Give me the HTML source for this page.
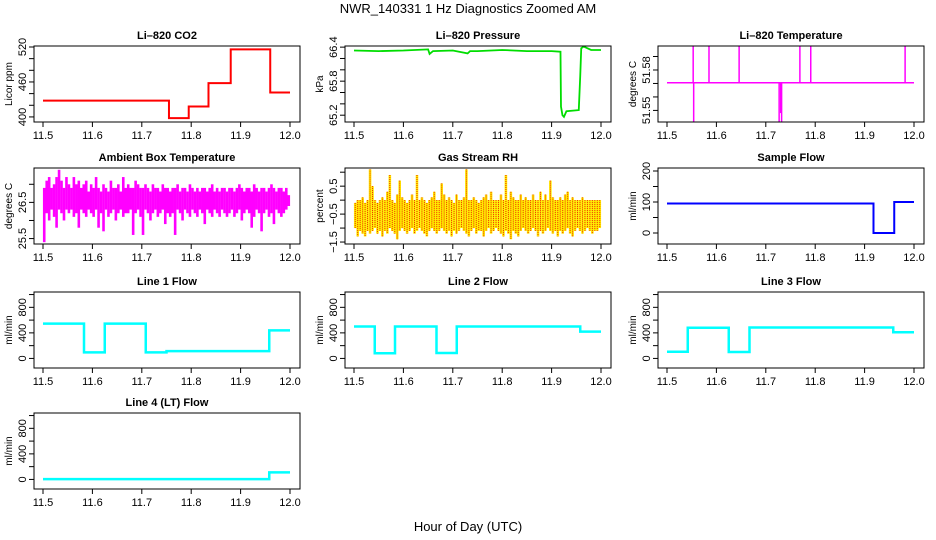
<!DOCTYPE html>
<html><head><meta charset="utf-8"><style>
html,body{margin:0;padding:0;background:#fff;}
svg{display:block;font-family:"Liberation Sans",Arial,sans-serif;}
</style></head><body>
<svg id="fig" width="936" height="540" viewBox="0 0 936 540">
<rect x="0" y="0" width="936" height="540" fill="#fff"/>
<text x="468" y="13" font-size="13" text-anchor="middle">NWR_140331  1 Hz Diagnostics Zoomed AM</text>
<text x="468" y="531" font-size="13" text-anchor="middle">Hour of Day (UTC)</text>
</svg>
<script>
const xTicks = [11.5, 11.6, 11.7, 11.8, 11.9, 12.0];
const xTickLabels = ["11.5", "11.6", "11.7", "11.8", "11.9", "12.0"];

const co2Breaks = [11.5, 11.755, 11.795, 11.835, 11.88, 11.96, 12.0];
const co2Values = [428, 398, 418, 458, 516, 442];

const pressureX = [11.5,11.55,11.6,11.65,11.653,11.66,11.7,11.73,11.735,11.75,11.8,11.85,11.9,11.918,11.919,11.922,11.925,11.93,11.955,11.958,11.96,11.965,11.98,12.0];
const pressureY = [66.34,66.33,66.34,66.36,66.28,66.33,66.34,66.29,66.33,66.33,66.35,66.33,66.33,66.32,65.35,65.20,65.17,65.27,65.29,65.9,66.38,66.41,66.35,66.35];

const liTempBase = 51.5705;
const liTempSpikeX = [11.553, 11.554, 11.585, 11.646, 11.727, 11.73, 11.732, 11.769, 11.791, 11.982];
const liTempSpikeY = [51.599, 51.541, 51.599, 51.599, 51.541, 51.548, 51.541, 51.599, 51.599, 51.599];

const ambientHi = [26.9,27.1,27.2,26.9,27.0,27.2,27.4,27.1,26.9,27.2,27.0,26.9,27.2,27.0,27.1,26.9,27.0,27.1,26.8,27.0,26.9,27.2,26.9,26.8,27.0,26.9,26.8,27.1,26.9,26.9,27.0,26.8,27.2,26.9,27.0,26.9,26.9,27.1,27.0,26.9,26.9,27.0,26.9,26.8,27.0,26.9,26.9,26.8,27.0,26.9,26.9,26.8,26.9,26.9,27.0,26.8,26.9,26.9,26.8,27.0,26.9,26.8,26.9,26.8,26.9,26.9,26.8,26.9,27.0,26.8,26.9,26.8,26.9,26.9,26.8,26.9,26.9,26.8,26.9,27.0,26.9,26.8,26.9,26.9,26.8,27.0,26.9,26.8,26.9,26.9,26.8,26.9,27.0,26.9,26.8,26.9,26.9,26.8,26.9,26.7];
const ambientLo = [25.4,26.2,26.0,26.3,26.1,25.8,26.3,26.2,26.0,26.3,26.2,26.3,26.1,26.2,25.8,26.3,26.2,26.1,26.3,26.2,26.1,26.3,25.8,26.2,25.7,26.3,26.1,26.2,26.3,26.0,26.2,26.3,26.1,26.2,26.2,26.3,25.6,26.2,26.3,26.1,25.6,26.3,26.2,26.0,26.2,26.3,26.1,26.2,26.3,25.9,26.2,26.1,26.2,25.6,26.3,26.2,26.0,26.3,26.2,26.1,26.3,26.2,26.1,26.3,26.2,25.9,26.3,26.2,26.1,26.3,26.2,26.1,26.3,26.2,26.1,26.2,26.3,26.1,26.2,26.3,26.0,26.2,26.3,26.2,25.8,26.1,26.3,26.2,25.7,26.2,26.3,26.1,26.2,25.9,26.3,26.2,26.1,26.2,26.3,26.4];

const rhHi = [-0.1,0.0,0.0,0.1,-0.1,0.0,1.1,0.5,0.0,-0.1,0.0,0.1,0.0,0.3,0.9,0.0,-0.1,0.2,0.7,0.1,0.0,-0.1,0.0,0.2,0.0,0.9,0.0,0.1,0.0,-0.1,0.0,0.1,0.3,0.0,0.0,0.6,0.2,0.0,0.1,0.0,-0.1,0.2,0.0,0.0,0.1,1.1,0.0,0.0,0.1,0.0,-0.1,0.0,0.1,0.2,0.0,0.3,0.0,0.0,0.0,0.2,0.0,0.9,0.0,0.3,0.1,0.0,0.0,0.2,0.0,0.1,0.0,0.0,0.2,0.0,0.0,0.3,0.0,0.2,0.0,0.7,0.1,0.0,0.0,0.1,0.0,0.2,0.3,0.0,0.1,0.0,0.0,0.0,0.1,0.0,0.0,0.0,0.0,0.0,0.0,0.0];
const rhLo = [-1.0,-1.3,-1.1,-1.2,-1.3,-1.1,-1.2,-1.1,-1.0,-1.2,-1.1,-1.3,-1.1,-1.2,-1.0,-1.1,-1.2,-1.4,-1.1,-1.0,-1.1,-1.2,-1.1,-1.0,-1.2,-1.1,-1.0,-1.1,-1.2,-1.3,-1.1,-1.0,-1.1,-1.2,-1.1,-1.0,-1.1,-1.2,-1.1,-1.3,-1.1,-1.2,-1.1,-1.0,-1.1,-1.2,-1.3,-1.1,-1.0,-1.2,-1.1,-1.1,-1.3,-1.1,-1.0,-1.2,-1.1,-1.0,-1.1,-1.2,-1.3,-1.1,-1.2,-1.4,-1.1,-1.2,-1.3,-1.1,-1.0,-1.1,-1.2,-1.1,-1.0,-1.1,-1.3,-1.1,-1.2,-1.1,-1.0,-1.1,-1.2,-1.1,-1.3,-1.1,-1.2,-1.1,-1.0,-1.2,-1.3,-1.1,-1.0,-1.1,-1.2,-1.1,-1.0,-1.1,-1.2,-1.1,-1.1,-1.0];

const sampleBreaks = [11.5, 11.918, 11.96, 12.0];
const sampleValues = [95, 0, 100];

const line1Breaks = [11.5, 11.583, 11.625, 11.708, 11.75, 11.958, 12.0];
const line1Values = [545, 95, 545, 95, 115, 440];
const line2Breaks = [11.5, 11.542, 11.583, 11.667, 11.708, 11.958, 12.0];
const line2Values = [500, 80, 500, 85, 500, 420];
const line3Breaks = [11.5, 11.542, 11.625, 11.667, 11.958, 12.0];
const line3Values = [105, 480, 100, 485, 410];
const line4Breaks = [11.5, 11.958, 12.0];
const line4Values = [5, 110];

const flowTicks = [0, 200, 400, 600, 800, 1000];
const flowLabels = ["0", "", "400", "", "800", ""];

const NS = "http://www.w3.org/2000/svg";
const svg = document.getElementById("fig");
function mk(tag, attrs, parent) {
  const e = document.createElementNS(NS, tag);
  for (const k in attrs) e.setAttribute(k, attrs[k]);
  (parent || svg).appendChild(e);
  return e;
}
const colL = [34, 345, 658], colW = 266;
const rowT = [46, 168, 292, 413], rowH = 76;

function panel(o) {
  const L = colL[o.col], T = rowT[o.row], W = colW, H = rowH, B = T + H;
  const g = mk("g", {});
  
  
  const sx = v => L + 9 + (v - 11.5) / 0.5 * (W - 19);
  const sy = v => B - (v - o.ymin) / (o.ymax - o.ymin) * H;
  const t = mk("text", {x: L + W / 2, y: T - 7, "font-size": 11, "font-weight": "bold", "text-anchor": "middle"}, g);
  t.textContent = o.title;
  
  
  const data = mk("g", {"clip-path": "url(#c" + o.name + ")"}, g);
  const cp = mk("clipPath", {id: "c" + o.name}, g);
  mk("rect", {x: L, y: T, width: W, height: H}, cp);
  o.draw(data, sx, sy);
  const box = mk("rect", {x: L, y: T, width: W, height: H, fill: "none", stroke: "#000", "stroke-width": 1}, g);
  
  
  xTicks.forEach((v, i) => {
    mk("line", {x1: sx(v), x2: sx(v), y1: B, y2: B + 5, stroke: "#000"}, g);
    const tl = mk("text", {x: sx(v), y: B + 17, "font-size": 11, "text-anchor": "middle"}, g);
    tl.textContent = xTickLabels[i];
    
    
  });
  o.yt.forEach((v, i) => {
    const y = sy(v);
    if (y < T - 1 || y > B + 1) return;
    mk("line", {x1: L - 5, x2: L, y1: y, y2: y, stroke: "#000"}, g);
    if (o.yl[i]) {
      const tl = mk("text", {x: L - 8, y: y, "font-size": 11, "text-anchor": "middle", transform: "rotate(-90 " + (L - 8) + " " + y + ")"}, g);
      tl.textContent = o.yl[i];
      
      
    }
  });
  const yy = T + H / 2, xx = L - 22;
  const at = mk("text", {x: xx, y: yy, "font-size": 10, "text-anchor": "middle", transform: "rotate(-90 " + xx + " " + yy + ")"}, g);
  at.textContent = o.ylab;
  
  
}
function steps(br, vals, color, lw) {
  return (g, sx, sy) => {
    let d = "";
    vals.forEach((v, i) => {
      d += (i === 0 ? "M" : "L") + sx(br[i]) + "," + sy(v) + " L" + sx(br[i + 1]) + "," + sy(v) + " ";
    });
    const p = mk("path", {d: d, fill: "none", stroke: color, "stroke-width": lw}, g);
    
    
  };
}
function bands(hi, lo, color, dash) {
  return (g, sx, sy) => {
    const n = hi.length, step = 0.5 / n;
    hi.forEach((h, i) => {
      const x = sx(11.5 + (i + 0.5) * step);
      const ln = mk("line", {x1: x, x2: x, y1: sy(h), y2: sy(lo[i]), stroke: color, "stroke-width": 2.6}, g);
      
      
      if (dash) {
        const d2 = mk("line", {x1: x, x2: x, y1: sy(h), y2: sy(lo[i]), stroke: dash, "stroke-width": 1.0, "stroke-dasharray": "1 1"}, g);
        
        
      }
    });
  };
}

panel({name: "co2-panel", title: "Li\u2013820 CO2", ylab: "Licor ppm", col: 0, row: 0, ymin: 391.3, ymax: 521.7,
  yt: [400, 420, 440, 460, 480, 500, 520], yl: ["400", "", "", "460", "", "", "520"],
  draw: steps(co2Breaks, co2Values, "#ff0000", 2)});

panel({name: "pressure-panel", title: "Li\u2013820 Pressure", ylab: "kPa", col: 1, row: 0, ymin: 65.08, ymax: 66.42,
  yt: [65.2, 65.4, 65.6, 65.8, 66.0, 66.2, 66.4], yl: ["65.2", "", "", "65.8", "", "", "66.4"],
  draw: (g, sx, sy) => {
    const pts = pressureX.map((x, i) => sx(x) + "," + sy(pressureY[i])).join(" ");
    const p = mk("polyline", {points: pts, fill: "none", stroke: "#00dd00", "stroke-width": 1.8}, g);
    
    
  }});

panel({name: "li-temperature-panel", title: "Li\u2013820 Temperature", ylab: "degrees C", col: 2, row: 0, ymin: 51.5414, ymax: 51.5978,
  yt: [51.55, 51.56, 51.57, 51.58, 51.59], yl: ["51.55", "", "", "51.58", ""],
  draw: (g, sx, sy) => {
    const b = mk("line", {x1: sx(11.5), x2: sx(12.0), y1: sy(liTempBase), y2: sy(liTempBase), stroke: "#ff00ff", "stroke-width": 1.5}, g);
    
    
    liTempSpikeX.forEach((x, i) => {
      const s = mk("line", {x1: sx(x), x2: sx(x), y1: sy(liTempBase), y2: sy(liTempSpikeY[i]), stroke: "#ff00ff", "stroke-width": 1.5}, g);
      
      
    });
  }});

panel({name: "ambient-temperature-panel", title: "Ambient Box Temperature", ylab: "degrees C", col: 0, row: 1, ymin: 25.35, ymax: 27.45,
  yt: [25.5, 26.0, 26.5, 27.0], yl: ["25.5", "", "26.5", ""],
  draw: bands(ambientHi, ambientLo, "#ff00ff", null)});

panel({name: "gas-rh-panel", title: "Gas Stream RH", ylab: "percent", col: 1, row: 1, ymin: -1.57, ymax: 1.15,
  yt: [-1.5, -1.0, -0.5, 0, 0.5, 1.0], yl: ["\u22121.5", "", "\u22120.5", "", "0.5", ""],
  draw: bands(rhHi, rhLo, "#ffee00", "#ee2200")});

panel({name: "sample-flow-panel", title: "Sample Flow", ylab: "ml/min", col: 2, row: 1, ymin: -35.5, ymax: 209.7,
  yt: [0, 50, 100, 150, 200], yl: ["0", "", "100", "", "200"],
  draw: steps(sampleBreaks, sampleValues, "#0000ff", 2)});

const flowMin = -150, flowMax = 1040;
panel({name: "line1-flow-panel", title: "Line 1 Flow", ylab: "ml/min", col: 0, row: 2, ymin: flowMin, ymax: flowMax, yt: flowTicks, yl: flowLabels,
  draw: steps(line1Breaks, line1Values, "#00ffff", 2.5)});
panel({name: "line2-flow-panel", title: "Line 2 Flow", ylab: "ml/min", col: 1, row: 2, ymin: flowMin, ymax: flowMax, yt: flowTicks, yl: flowLabels,
  draw: steps(line2Breaks, line2Values, "#00ffff", 2.5)});
panel({name: "line3-flow-panel", title: "Line 3 Flow", ylab: "ml/min", col: 2, row: 2, ymin: flowMin, ymax: flowMax, yt: flowTicks, yl: flowLabels,
  draw: steps(line3Breaks, line3Values, "#00ffff", 2.5)});
panel({name: "line4-flow-panel", title: "Line 4 (LT) Flow", ylab: "ml/min", col: 0, row: 3, ymin: flowMin, ymax: flowMax, yt: flowTicks, yl: flowLabels,
  draw: steps(line4Breaks, line4Values, "#00ffff", 2.5)});
</script>
</body></html>
